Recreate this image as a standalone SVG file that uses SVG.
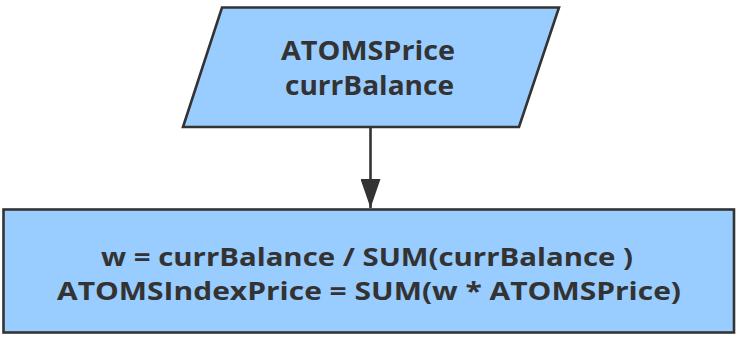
<svg xmlns="http://www.w3.org/2000/svg" width="738" height="338" viewBox="0 0 738 338">
<style>
.shape{fill:#99ccff;stroke:#333333;stroke-width:2.6}
.t{font-family:"Open Sans","Noto Sans","Liberation Sans",sans-serif;font-weight:bold;fill:#333333;text-anchor:middle}
.conn{stroke:#333333;stroke-width:2.6;fill:none}
</style>
<defs>
<marker id="ah" markerWidth="29" markerHeight="20" refX="29" refY="10" orient="auto" markerUnits="userSpaceOnUse" viewBox="0 0 29 20">
<path d="M0,0 L29,10 L0,20 Z" fill="#333333"/>
</marker>
</defs>
<g id="connectors">
<line class="conn" x1="370.5" y1="127" x2="370.5" y2="208" marker-end="url(#ah)"/>
</g>
<g id="input">
<polygon class="shape" points="222,7.5 559,7.5 519,127 183,127"/>
<text class="t" x="368" y="60" font-size="27" textLength="174" lengthAdjust="spacingAndGlyphs">ATOMSPrice</text>
<text class="t" x="369.5" y="95" font-size="27" textLength="169" lengthAdjust="spacingAndGlyphs">currBalance</text>
</g>
<g id="process">
<rect class="shape" x="3.5" y="209.5" width="730.5" height="123"/>
<text class="t" x="367" y="266" font-size="25" textLength="532" lengthAdjust="spacingAndGlyphs">w = currBalance / SUM(currBalance )</text>
<text class="t" x="369" y="300" font-size="25" textLength="624" lengthAdjust="spacingAndGlyphs">ATOMSIndexPrice = SUM(w * ATOMSPrice)</text>
</g>
</svg>
